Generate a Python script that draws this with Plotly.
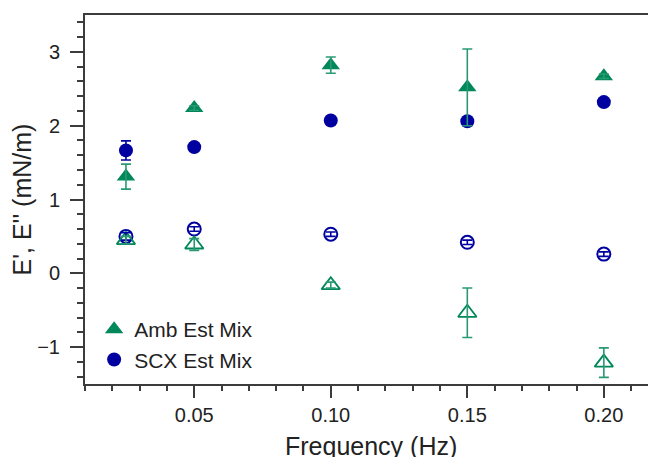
import plotly.graph_objects as go

# ---- data ----
freq = [0.025, 0.05, 0.10, 0.15, 0.20]

amb_storage = [1.31, 2.24, 2.82, 2.52, 2.67]      # E' Amb Est Mix (filled triangles)
amb_storage_err = [0.17, 0.03, 0.11, 0.52, 0.03]
amb_loss = [0.45, 0.39, -0.16, -0.535, -1.21]      # E'' Amb Est Mix (open triangles)
amb_loss_err = [0.05, 0.08, 0.04, 0.335, 0.20]

scx_storage = [1.665, 1.71, 2.07, 2.06, 2.32]      # E' SCX Est Mix (filled circles)
scx_storage_err = [0.13, 0.03, 0.03, 0.03, 0.03]
scx_loss = [0.50, 0.60, 0.53, 0.42, 0.26]          # E'' SCX Est Mix (open circles)
scx_loss_err = [0.05, 0.03, 0.03, 0.03, 0.03]

x_tickvals = [0.05, 0.10, 0.15, 0.20]
x_ticktext = ["0.05", "0.10", "0.15", "0.20"]
y_tickvals = [-1, 0, 1, 2, 3]

GREEN = "#00875A"
GREEN_ERR = "#2A9A72"
BLUE = "#0000A0"
AXIS = "#3C3C3C"
FONT = "Liberation Sans, Arial, sans-serif"

fig = go.Figure()

# markers
fig.add_trace(go.Scatter(x=freq, y=amb_storage, mode="markers", name="Amb Est Mix",
                         marker=dict(symbol="triangle-up", size=16, color=GREEN,
                                     line=dict(width=0))))
fig.add_trace(go.Scatter(x=freq, y=scx_storage, mode="markers", name="SCX Est Mix",
                         marker=dict(symbol="circle", size=14, color=BLUE,
                                     line=dict(width=0))))
fig.add_trace(go.Scatter(x=freq, y=scx_loss, mode="markers", showlegend=False,
                         marker=dict(symbol="circle-open", size=13, color=BLUE,
                                     line=dict(width=2, color=BLUE))))
fig.add_trace(go.Scatter(x=freq, y=amb_loss, mode="markers", showlegend=False,
                         marker=dict(symbol="triangle-up-open", size=16, color=GREEN,
                                     line=dict(width=1.8, color=GREEN))))

# error bars drawn on top of markers
def err_trace(y, err, color):
    return go.Scatter(x=freq, y=y, mode="markers", showlegend=False, hoverinfo="skip",
                      marker=dict(size=1, color="rgba(0,0,0,0)"),
                      error_y=dict(type="data", array=err, visible=True,
                                   color=color, thickness=1.6, width=5))

fig.add_trace(err_trace(scx_storage, scx_storage_err, BLUE))
fig.add_trace(err_trace(scx_loss, scx_loss_err, BLUE))
fig.add_trace(err_trace(amb_storage, amb_storage_err, GREEN_ERR))
fig.add_trace(err_trace(amb_loss, amb_loss_err, GREEN_ERR))

# the page body has an 8px default margin; size the figure to fit the window
fig.update_layout(
    width=648, height=449,
    margin=dict(l=77, r=0, t=7, b=73),
    paper_bgcolor="white", plot_bgcolor="white",
    font=dict(family=FONT, color="#222222", size=20),
    showlegend=True,
    legend=dict(x=0.016, y=0.203, xanchor="left", yanchor="top",
                bgcolor="rgba(0,0,0,0)", font=dict(size=21, family=FONT, color="#222222"),
                itemsizing="trace", tracegroupgap=0),
    xaxis=dict(range=[0.01, 0.2191], showgrid=False, zeroline=False, automargin=False,
               showline=True, linewidth=2, linecolor=AXIS, mirror=True,
               ticks="outside", ticklen=12, tickwidth=1.5, tickcolor=AXIS,
               tickvals=x_tickvals, ticktext=x_ticktext,
               tickfont=dict(size=20, family=FONT, color="#222222"),
               ticklabelstandoff=0,
               minor=dict(dtick=0.01, tick0=0.0, ticks="outside", ticklen=5,
                          tickwidth=1.5, tickcolor=AXIS, showgrid=False)),
    yaxis=dict(range=[-1.5, 3.5], showgrid=False, zeroline=False, automargin=False,
               showline=True, linewidth=2, linecolor=AXIS, mirror=False,
               ticks="outside", ticklen=13, tickwidth=1.5, tickcolor=AXIS,
               tickvals=y_tickvals,
               tickfont=dict(size=20, family=FONT, color="#222222"),
               ticklabelstandoff=6,
               minor=dict(dtick=0.2, tick0=0.0, ticks="outside", ticklen=6,
                          tickwidth=1.5, tickcolor=AXIS, showgrid=False),
               title=dict(text="E', E'' (mN/m)", standoff=7,
                          font=dict(size=25, family=FONT, color="#222222"))),
    annotations=[dict(text="Frequency (Hz)", xref="paper", yref="paper",
                      x=0.5, y=-0.168, xanchor="center", yanchor="middle",
                      showarrow=False,
                      font=dict(size=25, family=FONT, color="#222222"))],
)

fig.write_html("out.html")
